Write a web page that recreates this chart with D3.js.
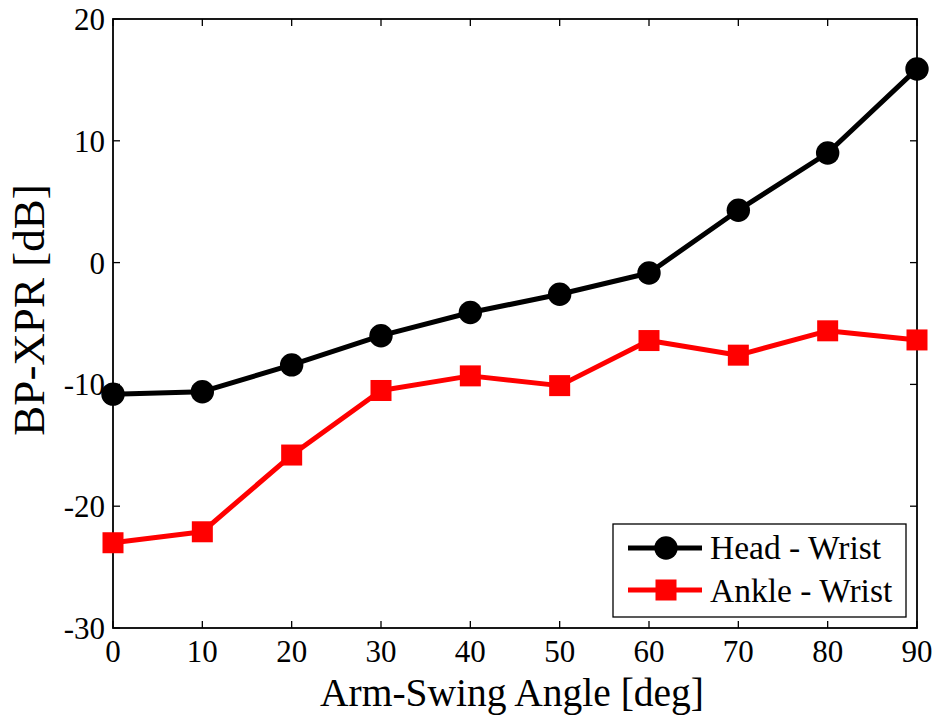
<!DOCTYPE html>
<html><head><meta charset="utf-8">
<script src="https://cdn.jsdelivr.net/npm/d3@7"></script>
<style>body{margin:0;background:#fff}svg{display:block}</style>
</head><body>
<svg id="c" width="939" height="719"></svg>
<script>
const angles = [0,10,20,30,40,50,60,70,80,90];
const headWrist = [-10.8,-10.6,-8.4,-6.0,-4.1,-2.6,-0.85,4.3,9.0,15.9];
const ankleWrist = [-23.0,-22.1,-15.8,-10.5,-9.3,-10.1,-6.4,-7.6,-5.6,-6.35];
const yTicks = [20,10,0,-10,-20,-30];
const xTicks = [0,10,20,30,40,50,60,70,80,90];
const seriesNames = ["Head - Wrist","Ankle - Wrist"];
const FONT = "Liberation Serif";

const svg = d3.select("#c");
const L=113,R=917,T=19,B=628;
const x = d3.scaleLinear().domain([0,90]).range([L,R]);
const y = d3.scaleLinear().domain([-30,20]).range([B,T]);

const tl=7;
const g=svg.append("g").attr("stroke","#000").attr("stroke-width",1.3);
yTicks.forEach(v=>{
  g.append("line").attr("x1",L).attr("x2",L+tl).attr("y1",y(v)).attr("y2",y(v));
  g.append("line").attr("x1",R).attr("x2",R-tl).attr("y1",y(v)).attr("y2",y(v));
});
xTicks.forEach(v=>{
  g.append("line").attr("x1",x(v)).attr("x2",x(v)).attr("y1",B).attr("y2",B-tl);
  g.append("line").attr("x1",x(v)).attr("x2",x(v)).attr("y1",T).attr("y2",T+tl);
});
svg.append("rect").attr("x",L).attr("y",T).attr("width",R-L).attr("height",B-T)
  .attr("fill","none").attr("stroke","#000").attr("stroke-width",1.8);

svg.selectAll(".yl").data(yTicks).enter().append("text")
  .style("font-family",FONT)
  .attr("x",L-8).attr("y",d=>y(d)+11).attr("text-anchor","end")
  .attr("font-size",31).text(d=>d);
svg.selectAll(".xl").data(xTicks).enter().append("text")
  .style("font-family",FONT)
  .attr("x",d=>x(d)).attr("y",B+34).attr("text-anchor","middle")
  .attr("font-size",31).text(d=>d);

svg.append("text").style("font-family",FONT).attr("x",512).attr("y",706).attr("text-anchor","middle")
  .attr("font-size",39.5).text("Arm-Swing Angle [deg]");
svg.append("text").style("font-family",FONT).attr("transform",`translate(44,310) rotate(-90)`)
  .attr("text-anchor","middle").attr("font-size",45).text("BP-XPR [dB]");

const line = d3.line().x((d,i)=>x(angles[i])).y(d=>y(d));
svg.append("path").datum(headWrist).attr("d",line).attr("fill","none")
  .attr("stroke","#000").attr("stroke-width",5).attr("stroke-linejoin","round");
svg.selectAll(".hm").data(headWrist).enter().append("circle")
  .attr("cx",(d,i)=>x(angles[i])).attr("cy",d=>y(d)).attr("r",11.7).attr("fill","#000");
svg.append("path").datum(ankleWrist).attr("d",line).attr("fill","none")
  .attr("stroke","#f00").attr("stroke-width",5).attr("stroke-linejoin","round");
const s=21;
svg.selectAll(".am").data(ankleWrist).enter().append("rect")
  .attr("x",(d,i)=>x(angles[i])-s/2).attr("y",d=>y(d)-s/2).attr("width",s).attr("height",s).attr("fill","#f00");

const lg=svg.append("g");
lg.append("rect").attr("x",613).attr("y",524).attr("width",293).attr("height",93)
  .attr("fill","#fff").attr("stroke","#000").attr("stroke-width",1.3);
const rows=[{n:seriesNames[0],c:"#000",m:"circle",yy:548,by:559},{n:seriesNames[1],c:"#f00",m:"rect",yy:590,by:602}];
rows.forEach(r=>{
  lg.append("line").attr("x1",628).attr("x2",702).attr("y1",r.yy).attr("y2",r.yy)
    .attr("stroke",r.c).attr("stroke-width",5);
  if(r.m==="circle") lg.append("circle").attr("cx",666).attr("cy",r.yy).attr("r",11.7).attr("fill",r.c);
  else lg.append("rect").attr("x",666-s/2).attr("y",r.yy-s/2).attr("width",s).attr("height",s).attr("fill",r.c);
  lg.append("text").style("font-family",FONT).attr("x",710).attr("y",r.by).attr("font-size",33.5).text(r.n);
});
</script>
</body></html>
